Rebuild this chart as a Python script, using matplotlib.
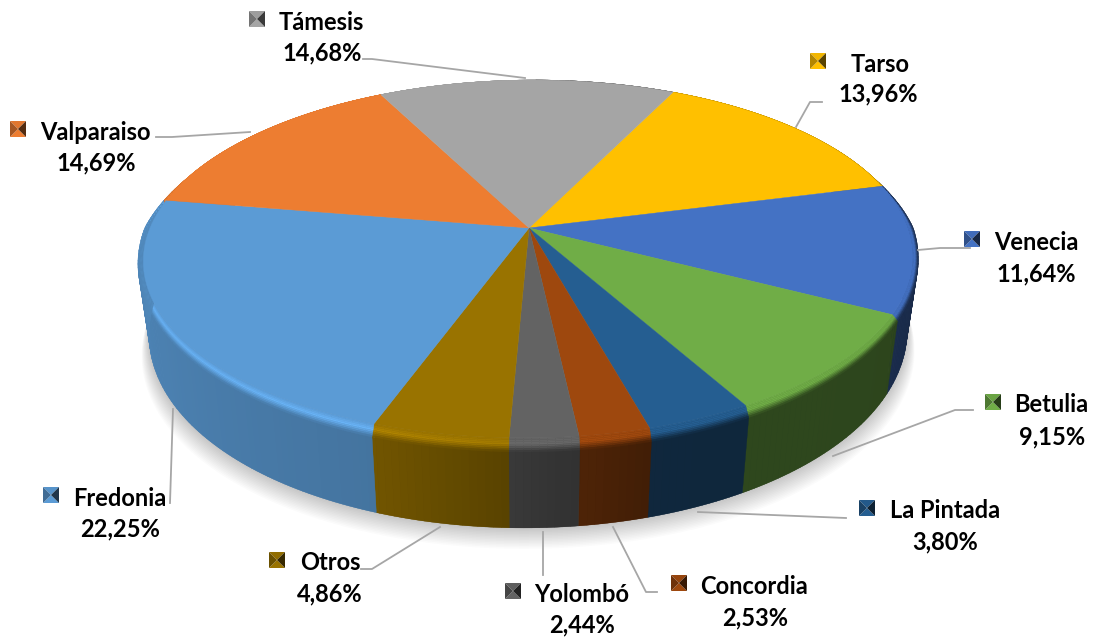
import numpy as np
import matplotlib
matplotlib.use("Agg")
import matplotlib.pyplot as plt
from matplotlib.collections import PolyCollection
from matplotlib.colors import to_rgb

plt.rcParams['font.family'] = ['Lato', 'DejaVu Sans']

# slices, clockwise starting at Tarso
names = ['Tarso', 'Venecia', 'Betulia', 'La Pintada', 'Concordia', 'Yolombó',
         'Otros', 'Fredonia', 'Valparaiso', 'Támesis']
values = [13.96, 11.64, 9.15, 3.80, 2.53, 2.44, 4.86, 22.25, 14.69, 14.68]
colors = ['#ffc000', '#4472c4', '#70ad47', '#255e91', '#9e480e', '#636363',
          '#997300', '#5b9bd5', '#ed7d31', '#a5a5a5']

# pixel layout of the labels: key left, name centre, name y, percent centre, percent y
label_pos = {
    'Tarso': (810, 880, 62, 878, 93),
    'Venecia': (964, 1036, 240, 1036, 273),
    'Betulia': (985, 1051, 403, 1052, 436),
    'La Pintada': (859, 945, 509, 945, 541),
    'Concordia': (671, 754, 584, 755, 617),
    'Yolombó': (505, 582, 592, 582, 624),
    'Otros': (269, 330, 561, 330, 593),
    'Fredonia': (43, 120, 496, 120, 528),
    'Valparaiso': (10, 95, 130, 96, 162),
    'Támesis': (249, 321, 20, 322, 52),
}
leaders = {
    'Tarso': [(796, 127), (810, 102), (822, 102)],
    'Venecia': [(918, 250), (940, 248), (970, 248)],
    'Betulia': [(833, 456), (955, 410), (973, 410)],
    'La Pintada': [(698, 512), (846, 518)],
    'Concordia': [(613, 527), (646, 592), (657, 592)],
    'Yolombó': [(543, 532), (543, 575)],
    'Otros': [(440, 527), (372, 569), (361, 569)],
    'Fredonia': [(173, 409), (170, 503)],
    'Valparaiso': [(156, 137), (172, 137), (250, 132)],
    'Támesis': [(363, 59), (372, 59), (525, 78)],
}

START = 25.2
CX, CY = 529, 228
A, B, K = 379, 173.6, 0.173
SHEAR = 5
RIM = 0.014


def project(theta, xscale=1.0, dz=0.0):
    # perspective view of the unit disc, theta clockwise from the back
    t = np.radians(theta)
    u, v = np.sin(t), np.cos(t)
    w = 1 + K * v
    return CX + xscale * A * u / w + SHEAR * v, CY - B * v / w + dz


def rim_dz(theta):
    return 14 * np.maximum(0, -np.cos(np.radians(theta)))


def rim_x(theta, s=1.0):
    # bevel fades out towards the back of the pie
    fade = np.clip((0.3 - np.cos(np.radians(theta))) / 0.3, 0, 1)
    return 1 + RIM * s * fade


def wall_dz(theta):
    return 70 + 20 * np.maximum(0, -np.cos(np.radians(theta)))


def wall_factor(theta):
    th = np.mod(theta, 360)
    return np.interp(th, [100, 120, 165, 182, 200, 280], [.36, .40, .42, .58, .75, .90])


def rim_bright(theta):
    th = np.mod(theta, 360)
    return np.interp(th, [165, 200, 280, 305], [1.0, 1.16, 1.16, 1.0])


fig = plt.figure(figsize=(10.99, 6.39), dpi=100)
ax = fig.add_axes([0, 0, 1, 1])
ax.set_xlim(0, 1099)
ax.set_ylim(639, 0)
ax.axis('off')

# soft shadow under the pie
full = np.linspace(0, 360, 241)
for i in range(14):
    grow = 1 + 0.0014 * (14 - i)
    x, y = project(full, 0.985 * grow, wall_dz(full) + 1.5 * (14 - i))
    ax.fill(x, y, color='black', alpha=0.014, lw=0, zorder=1)

edges = START + np.cumsum([0] + values) * 3.6

# side wall and bevel, built from thin strips per slice
for i, col in enumerate(colors):
    base = np.array(to_rgb(col))
    th = np.arange(edges[i], edges[i + 1], 1.0)
    th = np.append(th, edges[i + 1])
    vis = th[(np.mod(th, 360) > 60) & (np.mod(th, 360) < 300)]
    if len(vis) > 1:
        # solid piece first so the strips leave no gaps
        tx, ty = project(vis)
        bx, by = project(vis[::-1], 0.985, wall_dz(vis[::-1]))
        ax.fill(np.r_[tx, bx], np.r_[ty, by], lw=0, zorder=2,
                color=base * wall_factor(vis.mean()))
    quads, fc = [], []
    for a, b in zip(th[:-1], th[1:]):
        mid = (a + b) / 2
        wall = base * wall_factor(mid)
        xa, ya = project(a, rim_x(a), rim_dz(a))
        xb, yb = project(b, rim_x(b), rim_dz(b))
        xc, yc = project(b, 0.985, wall_dz(b))
        xd, yd = project(a, 0.985, wall_dz(a))
        if 60 < np.mod(mid, 360) < 300:
            quads.append([(xa, ya), (xb, yb), (xc, yc), (xd, yd)])
            fc.append(wall)
        bright = np.clip(base * rim_bright(mid), 0, 1)
        for j in range(8):
            s0, s1 = j / 8, (j + 1) / 8
            p = [project(a, rim_x(a, s0), rim_dz(a) * s0), project(b, rim_x(b, s0), rim_dz(b) * s0),
                 project(b, rim_x(b, s1), rim_dz(b) * s1), project(a, rim_x(a, s1), rim_dz(a) * s1)]
            sm = (s0 + s1) / 2
            if sm < 0.45:
                c = base + (bright - base) * sm / 0.45
            else:
                c = bright + (wall - bright) * (sm - 0.45) / 0.55
            quads.append(p)
            fc.append(c)
    ax.add_collection(PolyCollection(quads, facecolors=fc, edgecolors=fc, linewidths=0.25,
                                     zorder=2.5))

# flat top
for i, col in enumerate(colors):
    th = np.linspace(edges[i], edges[i + 1], 60)
    x, y = project(th)
    ax.fill(np.r_[CX, x], np.r_[CY, y], color=col, lw=0.3, zorder=3)

# labels
for name, val, col in zip(names, values, colors):
    key_x, name_x, name_y, pct_x, pct_y = label_pos[name]
    ax.text(name_x, name_y + 2, name, ha='center', va='center', fontsize=17,
            fontweight='bold', color='black', zorder=5)
    ax.text(pct_x, pct_y + 1, f'{val:.2f}%'.replace('.', ','), ha='center', va='center',
            fontsize=17, fontweight='bold', color='black', zorder=5)
    pts = np.array(leaders[name])
    ax.plot(pts[:, 0], pts[:, 1], color='#a6a6a6', lw=1.3, zorder=4)
    # bevelled legend key
    base = np.array(to_rgb(col))
    k0, k1 = key_x, key_x + 16
    y0, y1 = name_y - 9, name_y + 7
    mx, my = k0 + 8, y0 + 8
    ax.fill([k0, k1, mx], [y0, y0, my], color=base * 0.95, lw=0, zorder=5)
    ax.fill([k0, k1, mx], [y1, y1, my], color=base, lw=0, zorder=5)
    ax.fill([k0, k0, mx], [y0, y1, my], color=base * 0.7, lw=0, zorder=5)
    ax.fill([k1, k1, mx], [y0, y1, my], color=base * 0.35, lw=0, zorder=5)

fig.savefig('out.png', dpi=100)
